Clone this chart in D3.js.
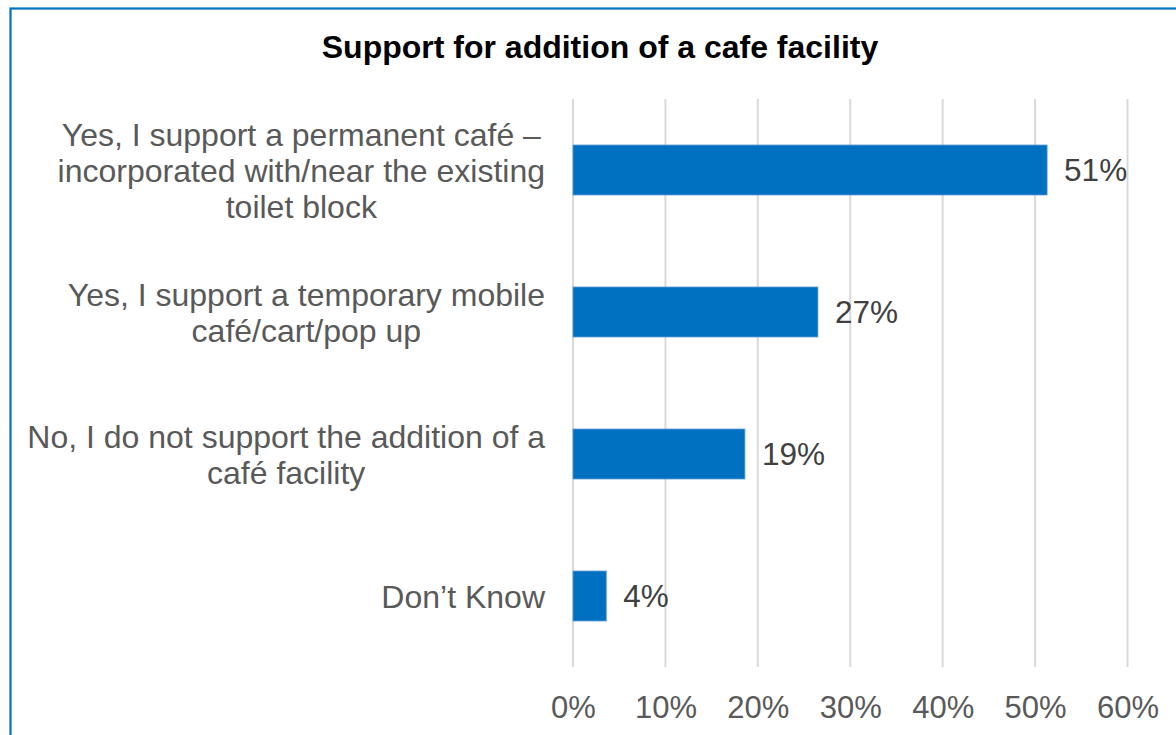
<!DOCTYPE html>
<html>
<head>
<meta charset="utf-8">
<script src="https://cdn.jsdelivr.net/npm/d3@7"></script>
<style>
  html, body { margin: 0; padding: 0; background: #ffffff; }
  svg { display: block; }
  text { font-family: "Liberation Sans", Arial, sans-serif; }
</style>
</head>
<body>
<svg id="chart" width="1176" height="735"></svg>
<script>
// ---- data ----
const title = "Support for addition of a cafe facility";
const categories = [
  ["Yes, I support a permanent café –", "incorporated with/near the existing", "toilet block"],
  ["Yes, I support a temporary mobile", "café/cart/pop up"],
  ["No, I do not support the addition of a", "café facility"],
  ["Don’t Know"]
];
const values = [51.3, 26.5, 18.6, 3.6];
const tickValues = [0, 10, 20, 30, 40, 50, 60];
const tickLabels = ["0%", "10%", "20%", "30%", "40%", "50%", "60%"];

// ---- layout ----
const W = 1176, H = 735;
const plot = { left: 573, right: 1127.5, top: 99, bottom: 667 };
const svg = d3.select("#chart");

svg.append("rect").attr("width", W).attr("height", H).attr("fill", "#ffffff");
// outer frame (extends past the right and bottom edges)
svg.append("rect")
  .attr("x", 10.5).attr("y", 8.5).attr("width", 1300).attr("height", 900)
  .attr("fill", "none").attr("stroke", "#0070C0").attr("stroke-width", 2.2);

const x = d3.scaleLinear().domain([0, 60]).range([plot.left, plot.right]);
const ids = categories.map((c, i) => i);
const y = d3.scaleBand().domain(ids).range([plot.top, plot.bottom])
  .paddingInner(0.648).paddingOuter(0.324);

// gridlines
svg.append("g").selectAll("line").data(tickValues).join("line")
  .attr("x1", d => x(d)).attr("x2", d => x(d))
  .attr("y1", plot.top).attr("y2", plot.bottom)
  .attr("stroke", "#d9d9d9").attr("stroke-width", 2);

// x axis labels
const xAxis = d3.axisBottom(x).tickValues(tickValues)
  .tickFormat((d, i) => tickLabels[i]).tickSize(0).tickPadding(0);
const gx = svg.append("g").attr("transform", `translate(0,${plot.bottom})`).call(xAxis);
gx.select(".domain").remove();
gx.selectAll("text")
  .attr("y", 51).attr("dy", 0)
  .attr("font-size", 31).attr("fill", "#595959")
  .style("font-family", '"Liberation Sans", Arial, sans-serif');

// bars
svg.append("g").selectAll("rect").data(values).join("rect")
  .attr("x", x(0))
  .attr("y", (d, i) => y(i))
  .attr("width", d => x(d) - x(0))
  .attr("height", y.bandwidth())
  .attr("fill", "#0070C0")
  .attr("stroke", "#5b9bd5").attr("stroke-width", 0.8);

// value labels
svg.append("g").selectAll("text").data(values).join("text")
  .attr("x", d => x(d) + 17)
  .attr("y", (d, i) => y(i) + y.bandwidth() / 2 + 11)
  .attr("font-size", 31.5).attr("fill", "#404040")
  .text(d => Math.round(d) + "%");

// category labels: block right-aligned to 545, lines centred within block
const lineH = 36;
const labelRight = 545;
categories.forEach((lines, i) => {
  const g = svg.append("g");
  const cy = y(i) + y.bandwidth() / 2;
  const texts = lines.map((ln, k) => g.append("text")
    .attr("font-size", 32).attr("fill", "#595959")
    .attr("text-anchor", "middle")
    .attr("y", cy + (k - (lines.length - 1) / 2) * lineH + 11.5)
    .text(ln));
  const maxW = d3.max(texts, t => t.node().getComputedTextLength());
  texts.forEach(t => t.attr("x", labelRight - maxW / 2));
});

// title
svg.append("text")
  .attr("x", 600).attr("y", 58)
  .attr("text-anchor", "middle")
  .attr("font-size", 32).attr("font-weight", "bold").attr("fill", "#000000")
  .text(title);
</script>
</body>
</html>
